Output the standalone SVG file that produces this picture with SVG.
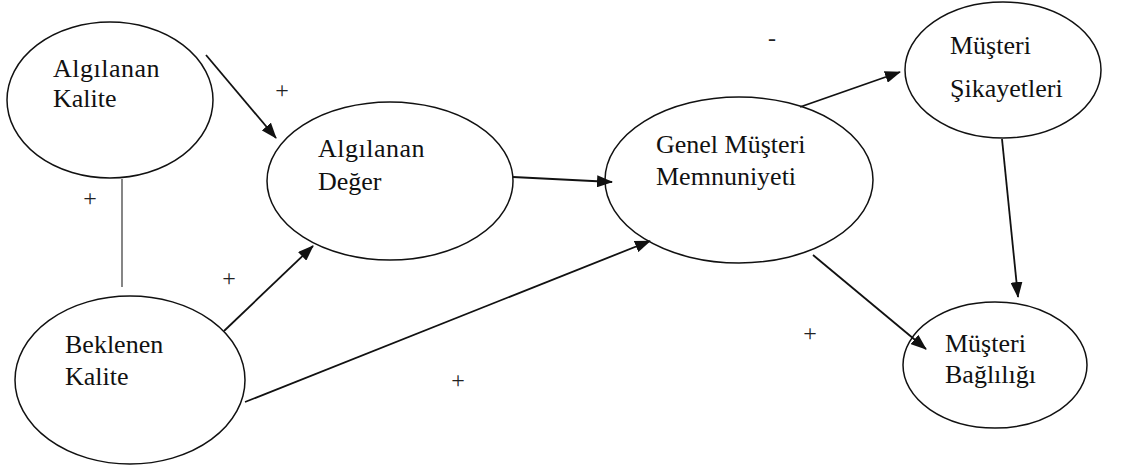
<svg xmlns="http://www.w3.org/2000/svg" width="1134" height="470" viewBox="0 0 1134 470">
  <style>
    .node ellipse { fill: #ffffff; stroke: #111111; stroke-width: 1.5; }
    .label { font-family: 'Liberation Serif', 'Times New Roman', serif; font-size: 26px; fill: #111111; }
    .wide { letter-spacing: 0.5px; }
    .sign { font-family: 'Liberation Serif', 'Times New Roman', serif; font-size: 24px; fill: #222222; text-anchor: middle; }
    .edge { stroke: #111111; stroke-width: 1.8; fill: none; }
    .link { stroke: #444444; stroke-width: 1.3; fill: none; }
  </style>
  <defs>
    <marker id="arrow" markerWidth="16" markerHeight="12" refX="15" refY="6" orient="auto" markerUnits="userSpaceOnUse">
      <path d="M0,0 L16,6 L0,12 Z" fill="#111111"/>
    </marker>
  </defs>

  <rect width="1134" height="470" fill="#ffffff"/>

  <g id="algilanan-kalite" class="node">
    <ellipse cx="110" cy="100" rx="103" ry="78"/>
    <text class="label wide" x="53" y="77">Algılanan</text>
    <text class="label" x="53" y="107">Kalite</text>
  </g>

  <g id="beklenen-kalite" class="node">
    <ellipse cx="130" cy="380" rx="115" ry="84"/>
    <text class="label" x="65" y="353">Beklenen</text>
    <text class="label" x="65" y="385">Kalite</text>
  </g>

  <g id="algilanan-deger" class="node">
    <ellipse cx="390" cy="181" rx="123" ry="79"/>
    <text class="label wide" x="318" y="157">Algılanan</text>
    <text class="label" x="318" y="190">Değer</text>
  </g>

  <g id="genel-musteri-memnuniyeti" class="node">
    <ellipse cx="739" cy="180" rx="134" ry="83"/>
    <text class="label" x="656" y="153" font-size="25.3">Genel Müşteri</text>
    <text class="label" x="656" y="185" font-size="25.3">Memnuniyeti</text>
  </g>

  <g id="musteri-sikayetleri" class="node">
    <ellipse cx="1003" cy="70" rx="98" ry="68"/>
    <text class="label" x="950" y="54">Müşteri</text>
    <text class="label" x="950" y="97">Şikayetleri</text>
  </g>

  <g id="musteri-bagliligi" class="node">
    <ellipse cx="995" cy="365" rx="92" ry="63"/>
    <text class="label" x="945" y="352">Müşteri</text>
    <text class="label" x="945" y="383">Bağlılığı</text>
  </g>

  <g id="connectors">
    <line class="link" x1="122" y1="179" x2="122" y2="287"/>
    <line class="edge" x1="206" y1="55" x2="276" y2="138" marker-end="url(#arrow)"/>
    <line class="edge" x1="224" y1="331" x2="313" y2="246" marker-end="url(#arrow)"/>
    <line class="edge" x1="245" y1="402" x2="650" y2="241" marker-end="url(#arrow)"/>
    <line class="edge" x1="513" y1="177" x2="612" y2="182" marker-end="url(#arrow)"/>
    <line class="edge" x1="800" y1="107" x2="900" y2="72" marker-end="url(#arrow)"/>
    <line class="edge" x1="1002" y1="139" x2="1018" y2="297" marker-end="url(#arrow)"/>
    <line class="edge" x1="813" y1="255" x2="926" y2="349" marker-end="url(#arrow)"/>
  </g>

  <g id="signs">
    <text class="sign" x="282" y="98">+</text>
    <text class="sign" x="90" y="206">+</text>
    <text class="sign" x="229" y="286">+</text>
    <text class="sign" x="458" y="388">+</text>
    <text class="sign" x="810" y="341">+</text>
    <text class="sign" x="772" y="46">-</text>
  </g>
</svg>
